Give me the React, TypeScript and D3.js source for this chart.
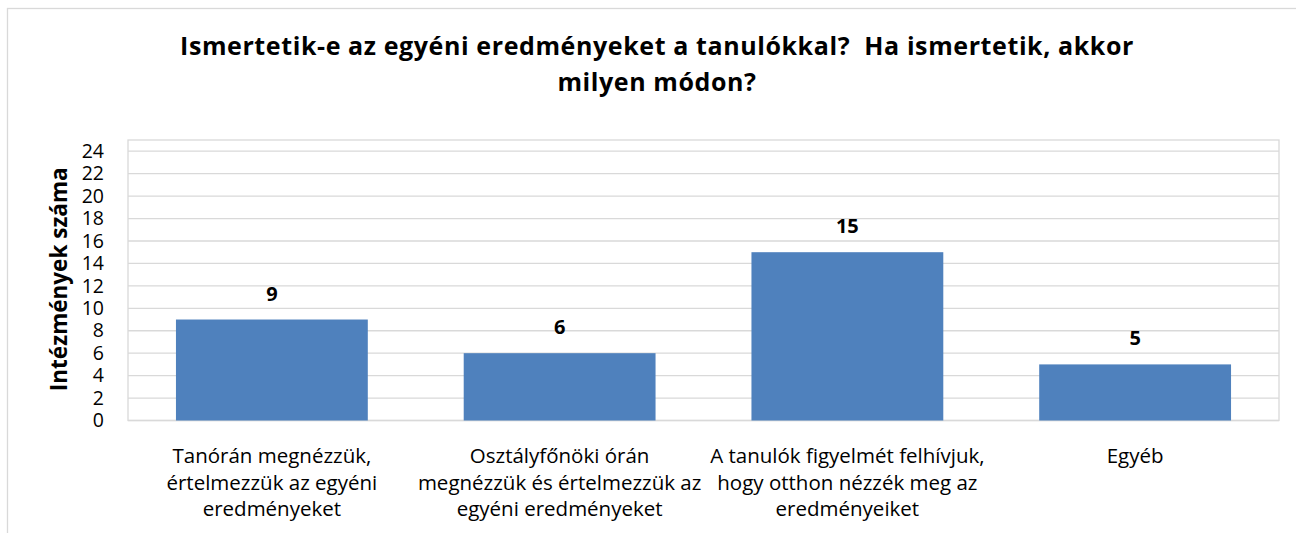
import { useEffect, useRef } from "react";
import * as d3 from "d3";

const categories = [
  ["Tanórán megnézzük,", "értelmezzük az egyéni", "eredményeket"],
  ["Osztályfőnöki órán", "megnézzük és értelmezzük az", "egyéni eredményeket"],
  ["A tanulók figyelmét felhívjuk,", "hogy otthon nézzék meg az", "eredményeiket"],
  ["Egyéb"],
];
const values = [9, 6, 15, 5];
const yTicks = [0, 2, 4, 6, 8, 10, 12, 14, 16, 18, 20, 22, 24];
const titleLines = [
  "Ismertetik-e az egyéni eredményeket a tanulókkal?  Ha ismertetik, akkor",
  "milyen módon?",
];
const yTitle = "Intézmények száma";

const FONT = "'Open Sans', sans-serif";

export default function App() {
  const svgRef = useRef<SVGSVGElement>(null);

  useEffect(() => {
    const el = svgRef.current;
    if (!el) return;
    const W = 1296, H = 533;
    const m = { top: 140, left: 128, right: 1279, bottom: 420.5 };

    const svg = d3.select(el).attr("viewBox", `0 0 ${W} ${H}`);
    svg.selectAll("*").remove();

    // outer chart frame
    svg.append("rect")
      .attr("x", 7.5).attr("y", 8.5).attr("width", 1300).attr("height", 560)
      .attr("fill", "#fff").attr("stroke", "#d9d9d9").attr("stroke-width", 1.3);

    // title
    const title = svg.append("text")
      .attr("text-anchor", "middle").attr("font-family", FONT)
      .attr("font-weight", "bold").attr("font-size", "25px")
      .attr("letter-spacing", "0.6px").attr("fill", "#000")
      .style("white-space", "pre");
    titleLines.forEach((t, i) => {
      title.append("tspan").attr("x", 657).attr("y", 55 + i * 36).text(t);
    });

    const x = d3.scaleBand<number>()
      .domain(values.map((_, i) => i))
      .range([m.left, m.right])
      .paddingInner(1 / 3).paddingOuter(1 / 6);
    const y = d3.scaleLinear().domain([0, 25]).range([m.bottom, m.top]);

    // plot area border
    svg.append("rect")
      .attr("x", m.left).attr("y", m.top)
      .attr("width", m.right - m.left).attr("height", m.bottom - m.top)
      .attr("fill", "none").attr("stroke", "#d9d9d9").attr("stroke-width", 1.3);

    // gridlines
    svg.append("g").selectAll("line").data(yTicks).join("line")
      .attr("x1", m.left).attr("x2", m.right)
      .attr("y1", d => y(d)).attr("y2", d => y(d))
      .attr("stroke", "#d9d9d9").attr("stroke-width", 1.3);

    // y axis
    svg.append("g").attr("transform", `translate(${m.left},0)`)
      .call(d3.axisLeft(y).tickValues(yTicks).tickSize(0).tickPadding(24))
      .call(ax => ax.select(".domain").remove())
      .call(ax => ax.selectAll("text")
        .attr("fill", "#000").attr("font-size", "19.5px").attr("font-family", FONT));

    svg.append("text")
      .attr("transform", `translate(67,${(m.top + m.bottom) / 2 - 1}) rotate(-90)`)
      .attr("text-anchor", "middle").attr("font-family", FONT)
      .attr("font-weight", "bold").attr("font-size", "22.5px").attr("fill", "#000")
      .text(yTitle);

    // bars
    svg.append("g").selectAll("rect").data(values).join("rect")
      .attr("x", (_, i) => x(i)!).attr("width", x.bandwidth())
      .attr("y", d => y(d)).attr("height", d => y(0) - y(d))
      .attr("fill", "#4f81bd");

    // data labels
    svg.append("g").selectAll("text").data(values).join("text")
      .attr("x", (_, i) => x(i)! + x.bandwidth() / 2)
      .attr("y", d => y(d) - 19)
      .attr("text-anchor", "middle").attr("font-family", FONT)
      .attr("font-weight", "bold").attr("font-size", "20px").attr("fill", "#000")
      .text(d => d);

    // category labels
    svg.append("g").selectAll("text").data(categories).join("text")
      .attr("text-anchor", "middle").attr("font-family", FONT)
      .attr("font-size", "20.5px").attr("fill", "#000")
      .each(function (lines, i) {
        d3.select(this).selectAll("tspan").data(lines).join("tspan")
          .attr("x", x(i)! + x.bandwidth() / 2)
          .attr("y", (_, j) => 463 + j * 26.5)
          .text(l => l);
      });
  }, []);

  return (
    <svg
      ref={svgRef}
      width={1296}
      height={533}
      style={{ position: "absolute", left: 0, top: 0, background: "#fff", overflow: "hidden" }}
    />
  );
}
